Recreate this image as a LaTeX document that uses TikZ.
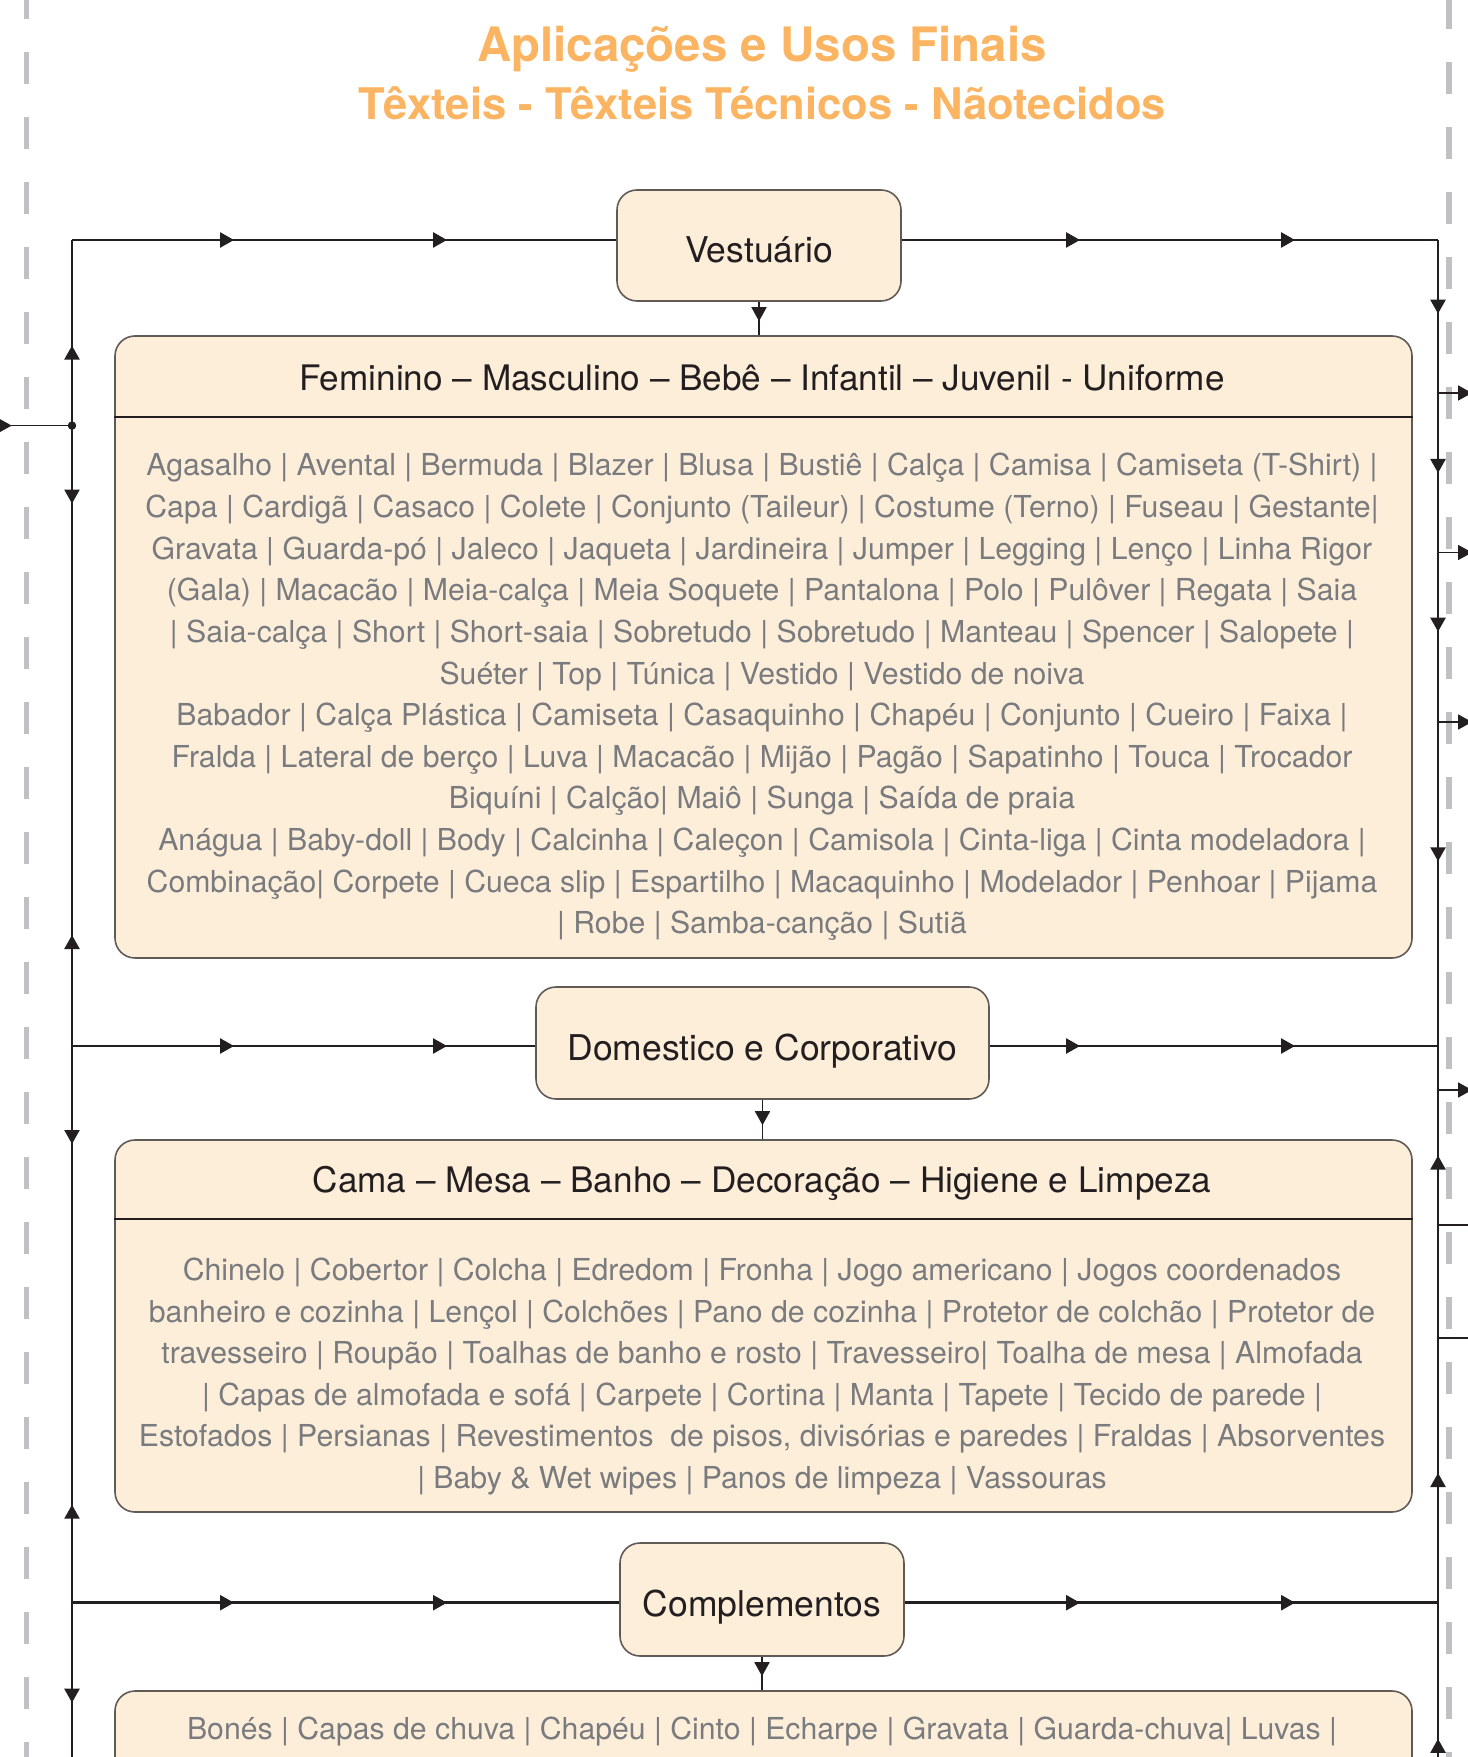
\documentclass[tikz,border=0pt]{standalone}
\usepackage{fontspec}
\setmainfont{TeX Gyre Heros}
\usepackage{xcolor}
\usepackage{tikz}
\usetikzlibrary{arrows.meta,decorations.markings}
\definecolor{ink}{HTML}{231F20}
\definecolor{muted}{HTML}{7A7B7E}
\definecolor{peach}{HTML}{FDEEDA}
\definecolor{frame}{HTML}{5F5A55}
\definecolor{amber}{HTML}{FAB462}
\definecolor{railgrey}{HTML}{BFC1C4}
\tikzset{
  wire/.style={draw=ink, line width=0.75pt},
  bus/.style={draw=ink, line width=0.65pt},
  twig/.style={draw=ink, line width=0.5pt},
  tipat/.style={postaction={decorate, decoration={markings,
      mark=at position #1 with {\arrow{Triangle[length=1.4mm,width=1.5mm]}}}}},
  areabox/.style={draw=frame, fill=peach, line width=0.45pt, rounded corners=2mm,
      text=ink, font=\fontsize{10.1}{12}\selectfont, inner sep=0pt,
      text height=3.4mm, text depth=0mm},
  catbox/.style={draw=frame, fill=peach, line width=0.45pt, rounded corners=2mm,
      minimum width=129.7mm, inner sep=0pt},
  headtxt/.style={text=ink, font=\fontsize{10}{12}\selectfont, inner sep=0pt},
  bodytxt/.style={text=muted, font=\fontsize{8.6}{11.84}\selectfont, align=center, inner sep=0pt},
  divider/.style={draw=ink, line width=0.8pt},
  rail/.style={draw=railgrey, line width=0.55mm, dash pattern=on 3.2mm off 3.3mm},
  dot/.style={circle, fill=ink, inner sep=0.3mm},
  titletxt/.style={text=amber, font=\bfseries\fontsize{13.5}{16}\selectfont},
}
\begin{document}
\begin{tikzpicture}[x=1mm, y=1mm]
  \useasboundingbox (0,0) rectangle (146.7,-175.7);
  % side rails
  \draw[rail] (2.63,1.34) -- (2.63,-180);
  \draw[rail] (144.9,0.27) -- (144.9,-180);

  \node[titletxt] (title1) at (76.2,-4.95) {Aplicações e Usos Finais};
  \node[titletxt, font=\bfseries\fontsize{12.4}{15}\selectfont] (title2) at (76.2,-10.3)
    {Têxteis - Têxteis Técnicos - Nãotecidos};

  \coordinate (tl) at (7.2,-24.0);
  \coordinate (tr) at (143.8,-24.0);
  \coordinate (ml) at (7.2,-104.6);
  \coordinate (mr) at (143.8,-104.6);
  \coordinate (bl) at (7.2,-160.27);
  \coordinate (br) at (143.8,-160.27);

  % Vestuario
  \node[areabox, minimum width=28.4mm, minimum height=11.1mm] (vest) at (75.9,-24.55) {Vestuário};
  \node[catbox, minimum height=62.2mm] (cat1) at (76.35,-64.7) {};
  \node[headtxt] (head1) at (76.2,-37.77)
    {Feminino – Masculino – Bebê – Infantil – Juvenil - Uniforme};
  \draw[divider] (cat1.west |- 0,-41.7) -- (cat1.east |- 0,-41.7);
  \node[bodytxt] (body1) at (76.2,-69.7) {%
    Agasalho | Avental | Bermuda | Blazer | Blusa | Bustiê | Calça | Camisa | Camiseta (T-Shirt) |\\
    Capa | Cardigã | Casaco | Colete | Conjunto (Taileur) | Costume (Terno) | Fuseau | Gestante|\\
    Gravata | Guarda-pó | Jaleco | Jaqueta | Jardineira | Jumper | Legging | Lenço | Linha Rigor\\
    (Gala) | Macacão | Meia-calça | Meia Soquete | Pantalona | Polo | Pulôver | Regata | Saia\\
    | Saia-calça | Short | Short-saia | Sobretudo | Sobretudo | Manteau | Spencer | Salopete |\\
    Suéter | Top | Túnica | Vestido | Vestido de noiva\\
    Babador | Calça Plástica | Camiseta | Casaquinho | Chapéu | Conjunto | Cueiro | Faixa |\\
    Fralda | Lateral de berço | Luva | Macacão | Mijão | Pagão | Sapatinho | Touca | Trocador\\
    Biquíni | Calção| Maiô | Sunga | Saída de praia\\
    Anágua | Baby-doll | Body | Calcinha | Caleçon | Camisola | Cinta-liga | Cinta modeladora |\\
    Combinação| Corpete | Cueca slip | Espartilho | Macaquinho | Modelador | Penhoar | Pijama\\
    | Robe | Samba-canção | Sutiã};

  % Domestico e Corporativo
  \node[areabox, minimum width=45.3mm, minimum height=11.2mm] (dom) at (76.25,-104.3) {Domestico e Corporativo};
  \node[catbox, minimum height=37.2mm] (cat2) at (76.35,-132.6) {};
  \node[headtxt] (head2) at (76.2,-118.3)
    {Cama – Mesa – Banho – Decoração – Higiene e Limpeza};
  \draw[divider] (cat2.west |- 0,-121.9) -- (cat2.east |- 0,-121.9);
  \node[bodytxt] (body2) at (76.2,-137.65) {%
    Chinelo | Cobertor | Colcha | Edredom | Fronha | Jogo americano | Jogos coordenados\\
    banheiro e cozinha | Lençol | Colchões | Pano de cozinha | Protetor de colchão | Protetor de\\
    travesseiro | Roupão | Toalhas de banho e rosto | Travesseiro| Toalha de mesa | Almofada\\
    | Capas de almofada e sofá | Carpete | Cortina | Manta | Tapete | Tecido de parede |\\
    Estofados | Persianas | Revestimentos~ de pisos, divisórias e paredes | Fraldas | Absorventes\\
    | Baby \& Wet wipes | Panos de limpeza | Vassouras};

  % Complementos
  \node[areabox, minimum width=28.4mm, minimum height=11.3mm] (comp) at (76.2,-159.95) {Complementos};
  \node[catbox, minimum height=20mm] (cat3) at (76.35,-179.1) {};
  \node[bodytxt] (body3) at (76.2,-173.1)
    {Bonés | Capas de chuva | Chapéu | Cinto | Echarpe | Gravata | Guarda-chuva| Luvas |};

  % rows
  \draw[wire, tipat=16.2mm, tipat=37.5mm] (tl) -- (tl -| vest.west);
  \draw[wire, tipat=-35.8mm, tipat=-14.3mm] (tl -| vest.east) -- (tr);
  \draw[wire, tipat=16.2mm, tipat=37.5mm] (ml) -- (ml -| dom.west);
  \draw[wire, tipat=-35.8mm, tipat=-14.3mm] (ml -| dom.east) -- (mr);
  \draw[wire, tipat=16.2mm, tipat=37.5mm] (bl) -- (bl -| comp.west);
  \draw[wire, tipat=-35.8mm, tipat=-14.3mm] (bl -| comp.east) -- (br);

  \draw[twig, tipat=-1.4mm] (vest.south) -- (vest.south |- cat1.north);
  \draw[twig, tipat=-1.4mm] (dom.south) -- (dom.south |- cat2.north);
  \draw[twig, tipat=-1.4mm] (comp.south) -- (comp.south |- cat3.north);

  % left bus
  \node[dot] (jn) at (7.2,-42.56) {};
  \coordinate (inl) at (-1,-42.56);
  \coordinate (lmid1) at (7.2,-73.5);
  \coordinate (lmid2) at (7.2,-132.0);
  \coordinate (lend) at (7.2,-180);
  \draw[twig, tipat=2.17mm] (inl) -- (jn.center);
  \draw[bus, tipat=8mm] (jn.center) -- (tl);
  \draw[bus, tipat=7.8mm] (jn.center) -- (lmid1);
  \draw[bus, tipat=11.1mm] (ml) -- (lmid1);
  \draw[bus, tipat=9.8mm] (ml) -- (lmid2);
  \draw[bus, tipat=9.8mm] (bl) -- (lmid2);
  \draw[bus, tipat=10mm] (bl) -- (lend);

  % right bus
  \coordinate (rend) at (143.8,-180);
  \draw[bus, tipat=7.37mm, tipat=23.3mm, tipat=39.17mm, tipat=62.13mm] (tr) -- (mr);
  \draw[bus, tipat=12.97mm, tipat=44.72mm] (br) -- (mr);
  \draw[bus, tipat=6.12mm] (rend) -- (br);
  \coordinate (out1) at (143.8,-39.3);  \coordinate (out1e) at (147.2,-39.3);
  \coordinate (out2) at (143.8,-55.25); \coordinate (out2e) at (147.2,-55.25);
  \coordinate (out3) at (143.8,-72.2);  \coordinate (out3e) at (147.2,-72.2);
  \coordinate (out4) at (143.8,-109.0); \coordinate (out4e) at (147.2,-109.0);
  \coordinate (out5) at (143.8,-122.5); \coordinate (out5e) at (148,-122.5);
  \coordinate (out6) at (143.8,-133.8); \coordinate (out6e) at (148,-133.8);
  \draw[twig, -{Triangle[length=1.4mm,width=1.5mm]}] (out1) -- (out1e);
  \draw[twig, -{Triangle[length=1.4mm,width=1.5mm]}] (out2) -- (out2e);
  \draw[twig, -{Triangle[length=1.4mm,width=1.5mm]}] (out3) -- (out3e);
  \draw[twig, -{Triangle[length=1.4mm,width=1.5mm]}] (out4) -- (out4e);
  \draw[twig] (out5) -- (out5e);
  \draw[twig] (out6) -- (out6e);
\end{tikzpicture}
\end{document}
